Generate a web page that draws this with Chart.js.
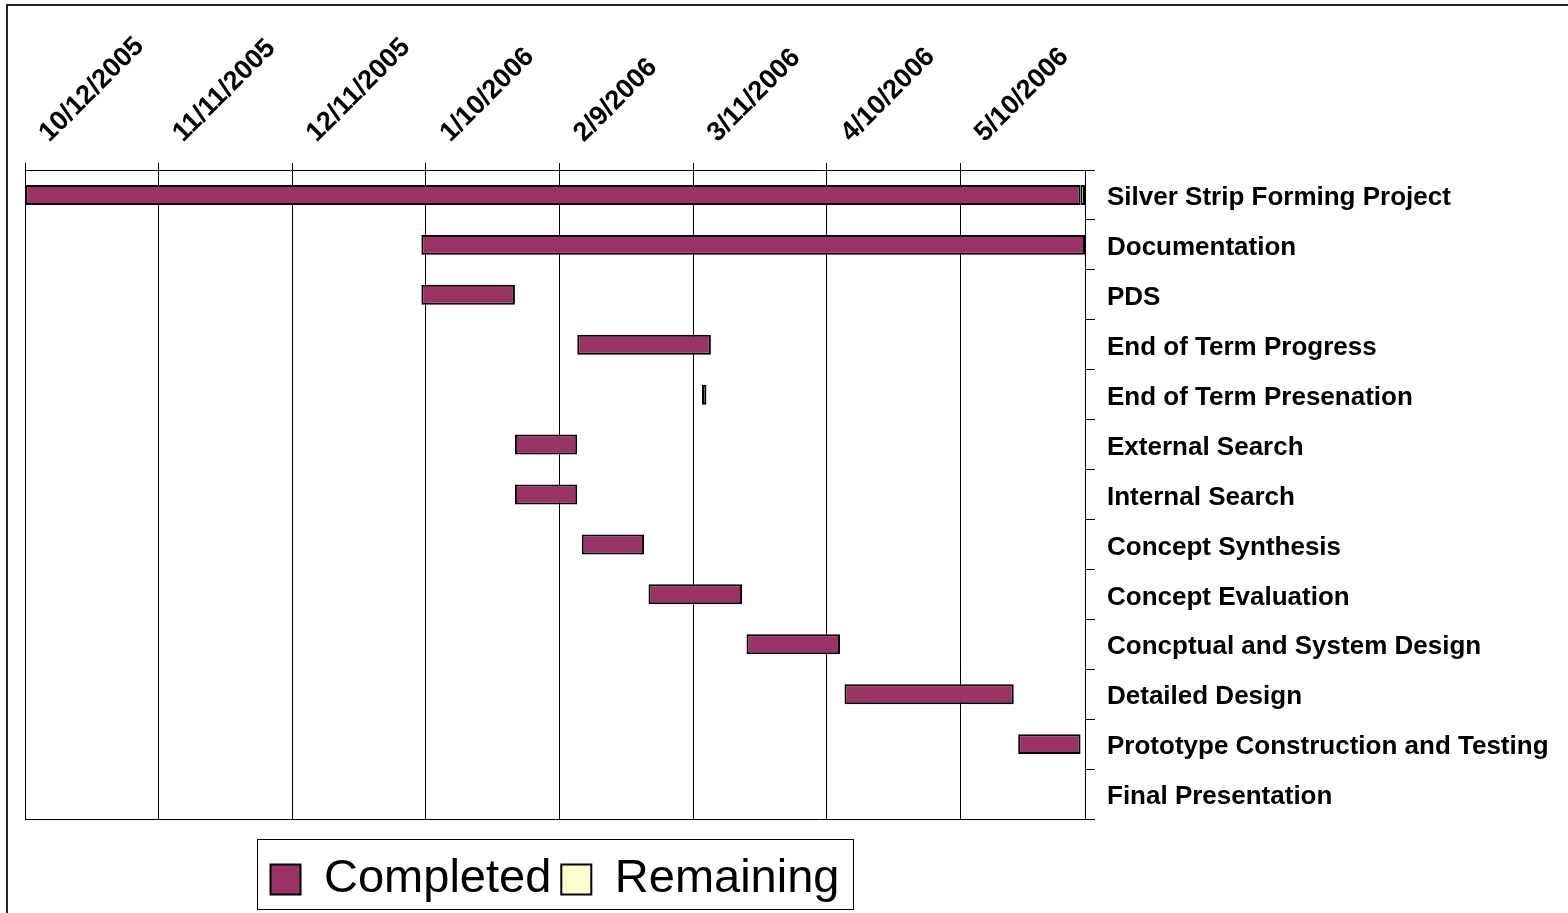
<!DOCTYPE html>
<html><head><meta charset="utf-8">
<script src="https://cdn.jsdelivr.net/npm/chart.js@4.4.1/dist/chart.umd.min.js"></script>
<style>html,body{margin:0;padding:0;background:#fff;}canvas{display:block;}</style>
</head><body>
<canvas id="c" width="1568" height="913"></canvas>
<script>
const tasks = ['Silver Strip Forming Project','Documentation','PDS','End of Term Progress','End of Term Presenation','External Search','Internal Search','Concept Synthesis','Concept Evaluation','Concptual and System Design','Detailed Design','Prototype Construction and Testing','Final Presentation'];
const completedStart = ['10/12/2005','1/9/2006','1/9/2006','2/13/2006','3/13/2006','1/30/2006','1/30/2006','2/14/2006','3/1/2006','3/23/2006','4/14/2006','5/23/2006',null];
const completedEnd   = ['6/6/2006','6/7/2006','1/30/2006','3/15/2006','3/14/2006','2/13/2006','2/13/2006','2/28/2006','3/22/2006','4/13/2006','5/22/2006','6/6/2006',null];
const remainingStart = ['6/6/2006',null,null,null,null,null,null,null,null,null,null,null,null];
const remainingEnd   = ['6/7/2006',null,null,null,null,null,null,null,null,null,null,null,null];
const tickLabels = ['10/12/2005','11/11/2005','12/11/2005','1/10/2006','2/9/2006','3/11/2006','4/10/2006','5/10/2006'];
const axisStart = '10/12/2005';
const axisEnd = '6/7/2006';

function dayNum(s){ const [m,d,y]=s.split('/').map(Number); return Date.UTC(y,m-1,d)/86400000; }
const base = dayNum(axisStart);
const toDay = s => s==null ? null : dayNum(s)-base;
const pair = (a,b) => a.map((s,i)=> s==null ? null : [toDay(s), toDay(b[i])]);
const tickDays = tickLabels.map(toDay);

const FONT = "'Liberation Sans', Arial, sans-serif";

const decor = {
  id:'decor',
  beforeDraw(chart){
    const ctx=chart.ctx; ctx.save();
    ctx.fillStyle='#fff'; ctx.fillRect(0,0,chart.width,chart.height);
    ctx.strokeStyle='#222'; ctx.lineWidth=2;
    ctx.strokeRect(7,5,chart.width+20,chart.height+20);
    ctx.restore();
  },
  afterDraw(chart){
    const hb = chart.legend && chart.legend.legendHitBoxes;
    if(!hb||!hb.length) return;
    const ctx=chart.ctx; ctx.save();
    const f=hb[0], l=hb[hb.length-1];
    const L=Math.round(f.left-14)+0.5, R=Math.round(l.left+l.width+14)+0.5;
    const T=Math.round(f.top-17)+0.5, B=Math.round(f.top+f.height+6)+0.5;
    ctx.strokeStyle='#000'; ctx.lineWidth=1; ctx.strokeRect(L,T,R-L,B-T);
    ctx.restore();
  }
};

new Chart(document.getElementById('c'), {
  type:'bar',
  data:{
    labels: tasks,
    datasets:[
      {label:'Completed', data: pair(completedStart, completedEnd), backgroundColor:'#993366', borderColor:'#000', borderWidth:2, borderSkipped:false, grouped:false, barPercentage:0.4, categoryPercentage:1},
      {label:'Remaining', data: pair(remainingStart, remainingEnd), backgroundColor:'#FFFFCC', borderColor:'#000', borderWidth:2, borderSkipped:false, grouped:false, barPercentage:0.4, categoryPercentage:1}
    ]
  },
  options:{
    indexAxis:'y', responsive:false, animation:false,
    layout:{padding:{left:25,right:0,top:0,bottom:0}},
    plugins:{
      tooltip:{enabled:false},
      legend:{position:'bottom', fullSize:false,
        labels:{font:{family:FONT,size:47}, color:'#000', boxWidth:30, boxHeight:30, padding:10}}
    },
    scales:{
      x:{type:'linear', position:'top', min:0, max:toDay(axisEnd),
        afterBuildTicks(s){ s.ticks = tickDays.map(v=>({value:v})); },
        afterFit(s){ s.height = 170; s.paddingLeft = 0; s.paddingRight = 0; },
        grid:{color:'#000', lineWidth:1, tickLength:7, drawOnChartArea:true},
        border:{display:true,color:'#000',width:1},
        ticks:{autoSkip:false, minRotation:45, maxRotation:45, padding:14, labelOffset:42,
          font:{family:FONT,size:27,weight:'bold'}, color:'#000',
          callback:(v,i)=>tickLabels[i]}
      },
      x2:{type:'linear', axis:'x', position:'bottom', min:0, max:1, display:true,
        afterFit(s){ s.height = 27; s.paddingLeft = 0; s.paddingRight = 0; },
        ticks:{display:false}, grid:{display:false, drawTicks:false},
        border:{display:true,color:'#000',width:1}},
      y:{type:'category', position:'right', offset:true,
        afterFit(s){ s.width = 483; },
        grid:{offset:true, drawOnChartArea:false, color:'#000', tickLength:10},
        border:{display:true,color:'#000',width:1},
        ticks:{autoSkip:false, padding:12, labelOffset:3, crossAlign:'near', font:{family:FONT,size:26,weight:'bold'}, color:'#000'}
      }
    }
  },
  plugins:[decor]
});
</script>
</body></html>
